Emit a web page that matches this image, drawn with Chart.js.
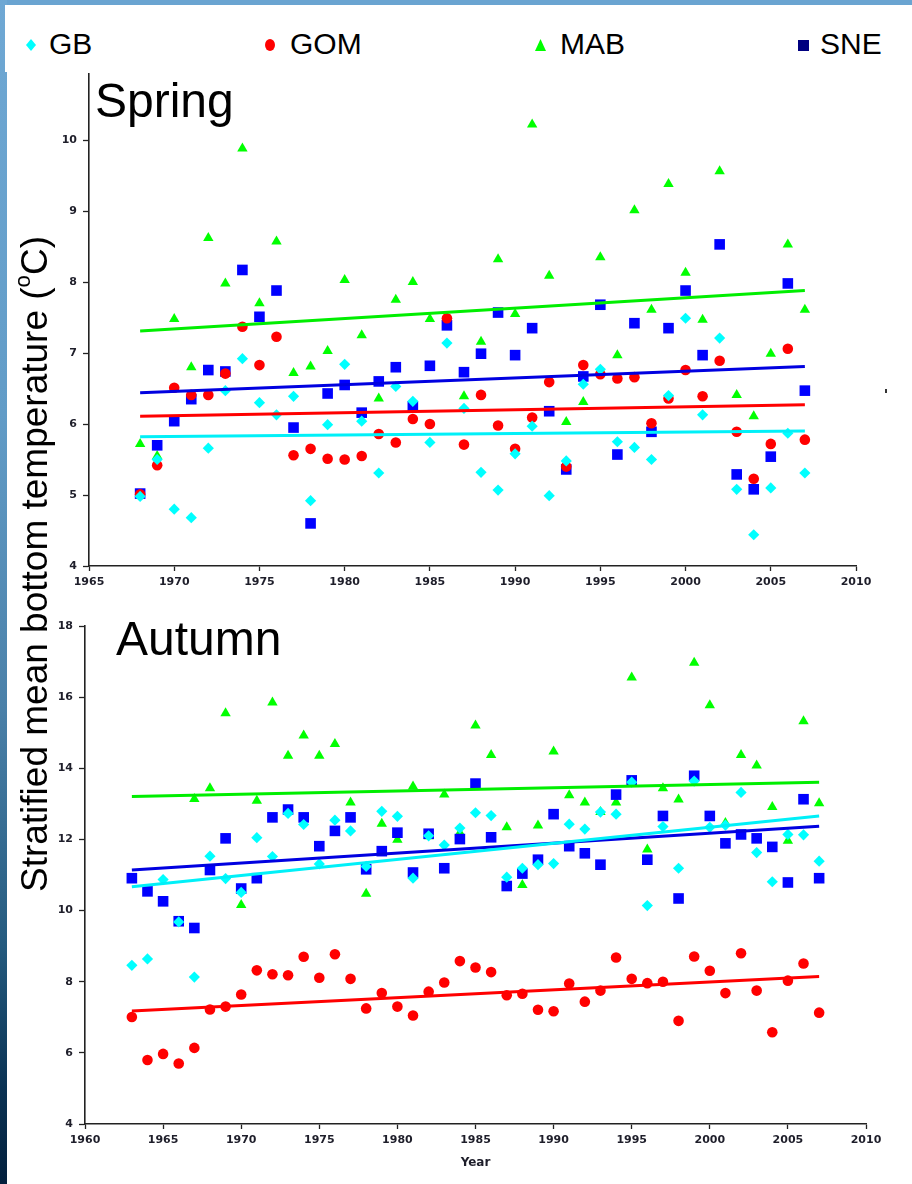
<!DOCTYPE html>
<html><head><meta charset="utf-8">
<script src="https://cdn.jsdelivr.net/npm/chart.js@4.4.1/dist/chart.umd.min.js"></script>
<style>
html,body{margin:0;padding:0;}
body{width:912px;height:1184px;position:relative;overflow:hidden;background:#fff;font-family:"Liberation Sans",Arial,sans-serif;}
.abs{position:absolute;}
#topband{left:0;top:0;width:912px;height:5px;background:#6aa4d1;}
#leftband{left:0;top:0;width:7px;height:1184px;background:linear-gradient(#6fa8d4 0%,#629cc7 35%,#4a80a8 60%,#245a7e 80%,#0a3253 92%,#03203d 100%);}
#legendbox{left:5px;top:5px;width:907px;height:67px;background:#fff;}
.legtxt{font-size:30px;line-height:30px;top:29px;color:#000;white-space:nowrap;}
.season{font-size:48px;line-height:48px;color:#000;white-space:nowrap;}
#ytitle{left:-315px;top:544px;width:700px;height:40px;line-height:40px;font-size:37px;text-align:center;transform:rotate(-90deg);white-space:nowrap;color:#000;}
#ytitle sup{font-size:0.6em;line-height:0;vertical-align:0.75em;}
canvas{position:absolute;left:0;}
</style>
</head><body>
<div id="topband" class="abs"></div>
<div id="leftband" class="abs"></div>
<div id="legendbox" class="abs"></div>

<div class="abs" style="left:26px;top:39px;width:10px;height:12px;background:#00ffff;clip-path:polygon(50% 0,100% 50%,50% 100%,0 50%);"></div>
<div class="abs legtxt" style="left:49px;">GB</div>
<div class="abs" style="left:265px;top:39px;width:10px;height:12px;background:#ff0000;border-radius:50%;"></div>
<div class="abs legtxt" style="left:290px;">GOM</div>
<div class="abs" style="left:535px;top:39px;width:11px;height:12px;background:#00ff00;clip-path:polygon(50% 0,100% 100%,0 100%);"></div>
<div class="abs legtxt" style="left:560px;">MAB</div>
<div class="abs" style="left:798px;top:40px;width:11px;height:11px;background:#000080;"></div>
<div class="abs legtxt" style="left:820px;">SNE</div>

<canvas id="spring" width="912" height="540" style="top:60px;"></canvas>
<canvas id="autumn" width="912" height="584" style="top:600px;"></canvas>

<div class="abs season" style="left:95px;top:77px;">Spring</div>
<div class="abs season" style="left:116px;top:615px;">Autumn</div>
<div id="ytitle" class="abs">Stratified mean bottom temperature (<sup>o</sup>C)</div>
<div class="abs" style="left:885px;top:389px;width:2px;height:4px;background:#333;"></div>

<script>
// ---------- Spring data ----------
const SPRING_YEARS = [1968,1969,1970,1971,1972,1973,1974,1975,1976,1977,1978,1979,1980,1981,1982,1983,1984,1985,1986,1987,1988,1989,1990,1991,1992,1993,1994,1995,1996,1997,1998,1999,2000,2001,2002,2003,2004,2005,2006,2007];
const SPRING_GB  = [4.98,5.50,4.80,4.68,5.66,6.47,6.92,6.30,6.13,6.39,4.92,5.99,6.84,6.04,5.31,6.53,6.32,5.74,7.14,6.22,5.32,5.07,5.58,5.97,4.99,5.48,6.56,6.77,5.75,5.67,5.50,6.40,7.49,6.13,7.21,5.08,4.44,5.10,5.87,5.31];
const SPRING_GOM = [5.01,5.42,6.51,6.41,6.41,6.71,7.37,6.83,7.23,5.56,5.65,5.51,5.50,5.55,5.86,5.74,6.07,6.00,7.49,5.71,6.41,5.98,5.65,6.09,6.59,5.40,6.83,6.70,6.64,6.66,6.01,6.36,6.76,6.39,6.89,5.89,5.23,5.72,7.06,5.78];
const SPRING_MAB = [5.72,5.55,7.48,6.80,8.62,7.98,9.88,7.70,8.57,6.72,6.81,7.03,8.03,7.25,6.36,7.75,8.00,7.48,7.50,6.39,7.16,8.32,7.55,10.22,8.09,6.03,6.31,8.35,6.97,9.01,7.61,9.38,8.13,7.47,9.56,6.41,6.11,6.99,8.53,7.61];
const SPRING_SNE = [5.02,5.70,6.04,6.35,6.76,6.74,8.17,7.51,7.88,5.95,4.60,6.43,6.55,6.16,6.60,6.80,6.25,6.82,7.39,6.73,6.99,7.57,6.97,7.35,6.18,5.36,6.67,7.68,5.57,7.42,5.89,7.35,7.88,6.97,8.53,5.29,5.08,5.54,7.98,6.47];
const SPRING_TREND_YEARS = [1968, 2007];
const SPRING_TREND_GB  = [5.82, 5.90];
const SPRING_TREND_GOM = [6.11, 6.27];
const SPRING_TREND_MAB = [7.31, 7.88];
const SPRING_TREND_SNE = [6.44, 6.81];
const SPRING_X_TICKS = [1965,1970,1975,1980,1985,1990,1995,2000,2005,2010];
const SPRING_Y_TICKS = [4,5,6,7,8,9,10];

// ---------- Autumn data ----------
const AUTUMN_YEARS = [1963,1964,1965,1966,1967,1968,1969,1970,1971,1972,1973,1974,1975,1976,1977,1978,1979,1980,1981,1982,1983,1984,1985,1986,1987,1988,1989,1990,1991,1992,1993,1994,1995,1996,1997,1998,1999,2000,2001,2002,2003,2004,2005,2006,2007];
const AUTUMN_GB  = [8.46,8.64,10.87,9.68,8.13,11.53,10.90,10.51,12.05,11.52,12.73,12.42,11.31,12.54,12.24,11.24,12.79,12.65,10.91,12.10,11.84,12.32,12.75,12.67,10.94,11.19,11.29,11.32,12.43,12.29,12.77,12.71,13.61,10.14,12.36,11.19,13.64,12.34,12.40,13.32,11.63,10.81,12.14,12.13,11.39];
const AUTUMN_GOM = [7.01,5.80,5.97,5.70,6.14,7.22,7.30,7.64,8.32,8.21,8.18,8.70,8.11,8.77,8.08,7.25,7.68,7.30,7.05,7.72,7.98,8.58,8.40,8.27,7.62,7.66,7.21,7.17,7.95,7.44,7.75,8.68,8.08,7.96,8.00,6.90,8.71,8.31,7.68,8.80,7.75,6.58,8.03,8.51,7.13];
const AUTUMN_MAB = [null,null,null,null,13.14,13.44,15.55,10.16,13.09,15.85,14.35,14.92,14.35,14.68,13.04,10.47,12.44,11.99,13.49,12.09,13.26,12.19,15.20,14.37,12.34,10.72,12.39,14.47,13.24,13.04,12.77,13.04,16.55,11.72,13.44,13.12,16.97,15.77,12.46,14.37,14.08,12.91,11.96,15.32,13.02];
const AUTUMN_SNE = [10.91,10.54,10.26,9.70,9.51,11.14,12.03,10.62,10.91,12.62,12.84,12.62,11.81,12.24,12.62,11.16,11.67,12.19,11.07,12.16,11.19,12.01,13.57,12.06,10.69,11.04,11.43,12.71,11.81,11.61,11.29,13.26,13.66,11.43,12.66,10.34,13.79,12.66,11.89,12.14,12.03,11.79,10.79,13.13,10.91];
const AUTUMN_TREND_YEARS = [1963, 2007];
const AUTUMN_TREND_GB  = [10.67, 12.66];
const AUTUMN_TREND_GOM = [7.18, 8.15];
const AUTUMN_TREND_MAB = [13.21, 13.61];
const AUTUMN_TREND_SNE = [11.14, 12.37];
const AUTUMN_X_TICKS = [1960,1965,1970,1975,1980,1985,1990,1995,2000,2005,2010];
const AUTUMN_Y_TICKS = [4,6,8,10,12,14,16,18];

// ---------- styling ----------
const COL = {GB:'#00ffff', GOM:'#ff0000', MAB:'#00ff00', SNE:'#0000ff'};
const LINECOL = {GB:'#00f0f8', GOM:'#ff0000', MAB:'#00ee00', SNE:'#0000e0'};
const STYLE = {GB:['rectRot',5.6], GOM:['circle',5.3], MAB:['triangle',6], SNE:['rect',7.5]};
const AX = '#222';
const TICKFONT = {family:'DejaVu Sans', weight:'bold', size:11};

function pts(xs, ys){ const out=[]; xs.forEach((x,i)=>{ if(ys[i]!=null) out.push({x:x,y:ys[i]}); }); return out; }

function scatterSet(name, xs, ys){
  return {label:name, data:pts(xs,ys), showLine:false, pointStyle:STYLE[name][0], pointRadius:STYLE[name][1],
    pointBackgroundColor:COL[name], pointBorderColor:COL[name], pointBorderWidth:0, pointHoverRadius:STYLE[name][1]};
}
function trendSet(name, xs, ys){
  return {label:name+' trend', data:pts(xs,ys), showLine:true, borderColor:LINECOL[name], borderWidth:3, pointRadius:0, fill:false, tension:0};
}

function makeChart(id, c){
  new Chart(document.getElementById(id), {
    type:'scatter',
    data:{datasets:[
      trendSet('GB', c.ty, c.tr.GB), trendSet('GOM', c.ty, c.tr.GOM), trendSet('MAB', c.ty, c.tr.MAB), trendSet('SNE', c.ty, c.tr.SNE),
      scatterSet('GB', c.years, c.v.GB), scatterSet('GOM', c.years, c.v.GOM), scatterSet('SNE', c.years, c.v.SNE), scatterSet('MAB', c.years, c.v.MAB)
    ]},
    options:{
      responsive:false, animation:false, devicePixelRatio:1,
      layout:{padding:c.pad},
      plugins:{legend:{display:false}, tooltip:{enabled:false}},
      scales:{
        x:{type:'linear', min:c.xmin, max:c.xmax,
          afterBuildTicks:s=>{ s.ticks = c.xt.map(v=>({value:v})); },
          afterFit:s=>{ s.height = c.xh; },
          grid:{drawOnChartArea:false, drawTicks:true, tickLength:5, tickColor:AX, tickWidth:1.3},
          border:{display:true, color:AX, width:1.6},
          ticks:{font:TICKFONT, color:'#1e1e2a', padding:5, maxRotation:0, autoSkip:false, callback:v=>String(v)},
          title:c.xtitle
        },
        y:{type:'linear', min:c.ymin, max:c.ymax,
          afterBuildTicks:s=>{ s.ticks = c.yt.map(v=>({value:v})); },
          afterFit:s=>{ s.width = c.yw; },
          grid:{drawOnChartArea:false, drawTicks:true, tickLength:6, tickColor:AX, tickWidth:1.3},
          border:{display:true, color:AX, width:1.6},
          ticks:{font:TICKFONT, color:'#1e1e2a', padding:6, autoSkip:false, callback:v=>String(v)}
        }
      }
    }
  });
}

makeChart('spring', {
  years:SPRING_YEARS, v:{GB:SPRING_GB, GOM:SPRING_GOM, MAB:SPRING_MAB, SNE:SPRING_SNE},
  ty:SPRING_TREND_YEARS, tr:{GB:SPRING_TREND_GB, GOM:SPRING_TREND_GOM, MAB:SPRING_TREND_MAB, SNE:SPRING_TREND_SNE},
  xmin:1965, xmax:2010, ymin:4, ymax:10.93, xt:SPRING_X_TICKS, yt:SPRING_Y_TICKS,
  pad:{top:14, right:56, left:0, bottom:0}, xh:34, yw:89,
  xtitle:{display:false}
});
makeChart('autumn', {
  years:AUTUMN_YEARS, v:{GB:AUTUMN_GB, GOM:AUTUMN_GOM, MAB:AUTUMN_MAB, SNE:AUTUMN_SNE},
  ty:AUTUMN_TREND_YEARS, tr:{GB:AUTUMN_TREND_GB, GOM:AUTUMN_TREND_GOM, MAB:AUTUMN_TREND_MAB, SNE:AUTUMN_TREND_SNE},
  xmin:1960, xmax:2010, ymin:4, ymax:18, xt:AUTUMN_X_TICKS, yt:AUTUMN_Y_TICKS,
  pad:{top:26, right:46, left:0, bottom:0}, xh:60, yw:85,
  xtitle:{display:true, text:'Year', color:'#1e1e2a', font:{family:'DejaVu Sans', weight:'bold', size:12}, padding:{top:0, bottom:14}}
});
</script>
</body></html>
